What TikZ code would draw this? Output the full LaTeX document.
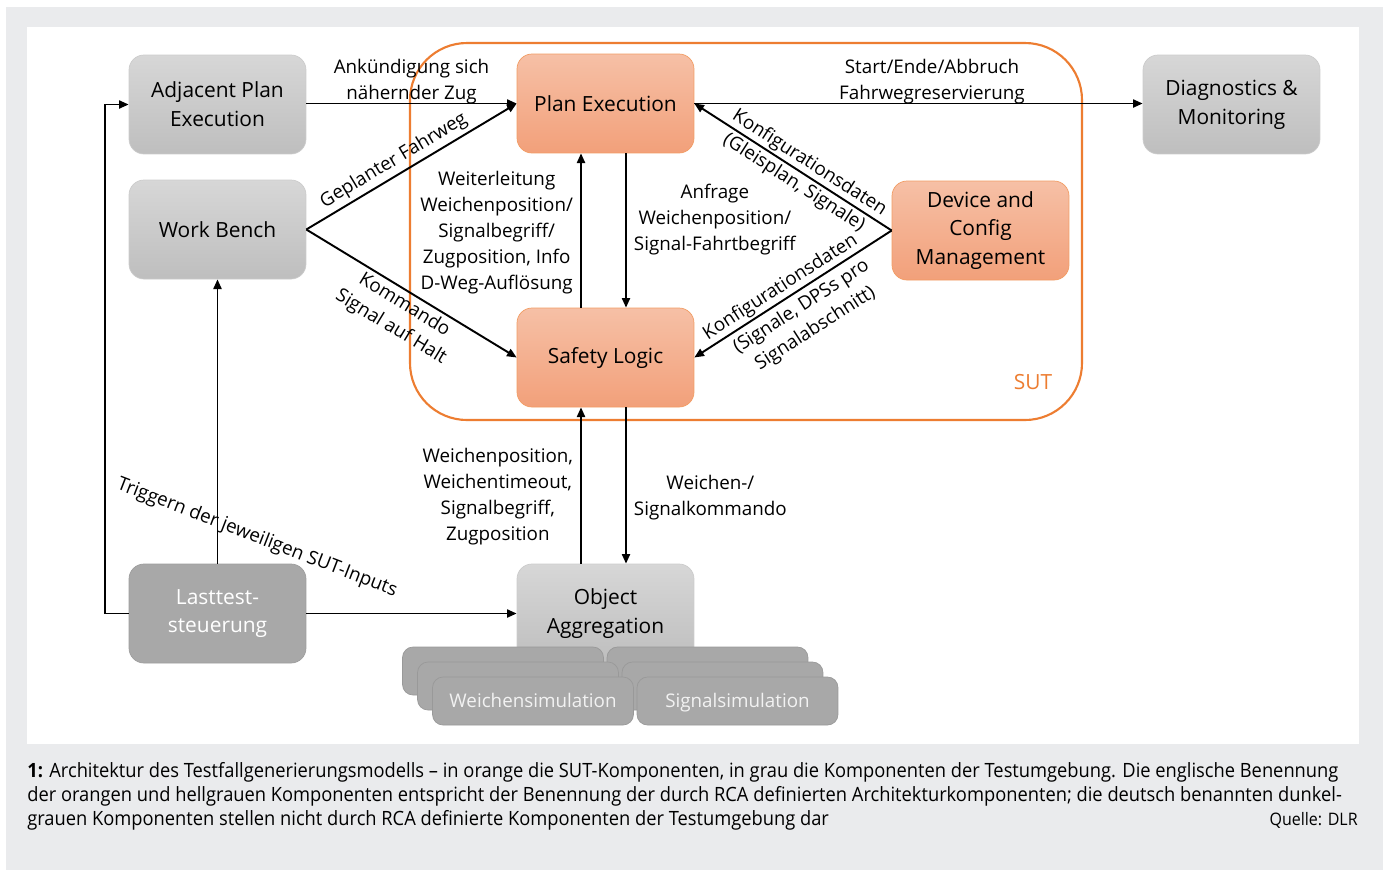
\documentclass[tikz,border=0pt]{standalone}
\usepackage{fontspec}
\setmainfont{Open Sans}
\newfontfamily\capfont[FakeStretch=0.93]{Open Sans}
\usetikzlibrary{arrows.meta}
\definecolor{bggray}{RGB}{234,235,237}
\definecolor{sutorange}{RGB}{237,125,49}
\definecolor{ortop}{RGB}{246,192,166}
\definecolor{orbot}{RGB}{242,160,122}
\definecolor{grtop}{RGB}{215,215,215}
\definecolor{grbot}{RGB}{190,190,190}
\definecolor{dkgray}{RGB}{168,168,168}
\tikzset{
  comp/.style={rounded corners=8.5pt, minimum width=3.54cm, minimum height=1.98cm, align=center, inner sep=2pt, font=\fontsize{11.9}{16.4}\selectfont},
  sutcomp/.style={comp, draw=sutorange!75, top color=ortop, bottom color=orbot},
  envcomp/.style={comp, draw=black!20, top color=grtop, bottom color=grbot},
  ltcomp/.style={comp, draw=black!38, fill=dkgray, text=white},
  simbox/.style={rounded corners=6pt, draw=black!40, fill=dkgray, minimum width=4.02cm, minimum height=0.96cm, inner sep=1pt, text height=0.95em, text depth=0.25em, text=white!95!black, font=\fontsize{10.7}{14}\selectfont},
  flow/.style={-{Triangle[length=5.5pt,width=4.6pt]}, line width=1.1pt},
  lbl/.style={align=center, inner sep=2pt, font=\fontsize{10.7}{14.7}\selectfont},
}
\begin{document}
\begin{tikzpicture}[x=0.02cm, y=-0.02cm]
\useasboundingbox (0,0) rectangle (1389,870);
\fill[bggray] (6,7) rectangle (1383,870);
\fill[white] (27,27) rectangle (1359,744);
% system under test
\draw[sutorange, line width=1.2pt, rounded corners=1.14cm] (410,43) rectangle (1082,420);
\node[text=sutorange, font=\fontsize{11.9}{14}\selectfont] (sut) at (1033,382) {SUT};
% components
\node[envcomp] (adj) at (217.5,104.5) {Adjacent Plan\\Execution};
\node[envcomp] (wb) at (217.5,229.5) {Work Bench};
\node[sutcomp] (plan) at (605.5,103.5) {Plan Execution};
\node[sutcomp] (safe) at (605.5,357.5) {Safety Logic};
\node[sutcomp] (dev) at (980.5,230.5) {Device and\\Config\\Management};
\node[envcomp] (diag) at (1231.5,104.5) {Diagnostics \&\\Monitoring};
\node[ltcomp] (last) at (217.5,613.5) {Lasttest-\\steuerung};
\node[envcomp] (obj) at (605.5,613.5) {Object\\Aggregation};
% simulation stacks
\foreach \d/\l/\r [count=\i] in {0//, 15//, 30/Weichensimulation/Signalsimulation} {
  \node[simbox] (wsim\i) at (503+\d,671+\d) {\l};
  \node[simbox] (ssim\i) at (707.5+\d,671+\d) {\r};
}
% connectors
\draw[flow] (adj.east |- plan) -- node[lbl, above, yshift=-2.8pt] (ankl) {Ankündigung sich\\nähernder Zug} (plan);
\draw[flow] (plan.east) -- node[lbl, above, pos=0.53, yshift=-2.8pt] (startl) {Start/Ende/Abbruch\\Fahrwegreservierung} (diag.west |- plan);
\draw[flow] (wb.east) -- node[lbl, sloped, above, pos=0.45] (fahrl) {Geplanter Fahrweg} (plan.west);
\draw[flow] (wb.east) -- node[lbl, sloped, below, pos=0.5, inner sep=2pt] (komml) {Kommando\\Signal auf Halt} (safe.west);
\draw[flow] (dev.west) -- node[lbl, sloped, above, pos=0.45, inner sep=1pt] (konf1a) {Konfigurationsdaten}
  node[lbl, sloped, below, pos=0.46, inner sep=1.5pt] (konf1b) {(Gleisplan, Signale)} (plan.east);
\draw[flow] (dev.west) -- node[lbl, sloped, above, pos=0.53, inner sep=1pt] (konf2a) {Konfigurationsdaten}
  node[lbl, sloped, below, pos=0.5, inner sep=3pt] (konf2b) {(Signale, DPSs pro\\Signalabschnitt)} (safe.east);
\draw[flow] ([xshift=-0.49cm]safe.north) -- node[lbl, left, inner sep=4pt, yshift=-1.2pt] (weitl) {Weiterleitung\\Weichenposition/\\Signalbegriff/\\Zugposition, Info\\D-Weg-Auflösung} ([xshift=-0.49cm]plan.south);
\draw[flow] ([xshift=0.41cm]plan.south) -- node[lbl, right, pos=0.43, inner sep=4pt] (anfl) {Anfrage\\Weichenposition/\\Signal-Fahrtbegriff} ([xshift=0.41cm]safe.north);
\draw[flow] ([xshift=-0.49cm]obj.north) -- node[lbl, left, pos=0.44, inner sep=4pt, yshift=-1pt] (posl) {Weichenposition,\\Weichentimeout,\\Signalbegriff,\\Zugposition} ([xshift=-0.49cm]safe.south);
\draw[flow] ([xshift=0.41cm]safe.south) -- node[lbl, right, pos=0.56, inner sep=4pt, yshift=-1.5pt] (kmdl) {Weichen-/\\Signalkommando} ([xshift=0.41cm]obj.north);
\draw[flow] (last.west) -- ++(-24,0) |- (adj.west);
\draw[flow] (last) -- (wb);
\draw[flow] (last) -- (obj);
\node[lbl, rotate=-21.2] (trigl) at (257,538) {Triggern der jeweiligen SUT-Inputs};
% caption
\begin{scope}[every node/.style={anchor=base west, inner sep=0pt, font=\capfont\fontsize{11.2}{12}\selectfont}]
\node (cap1) at (27,777) {\textbf{1:} Architektur des Testfallgenerierungsmodells – in orange die SUT-Komponenten, in grau die Komponenten der Testumgebung. Die englische Benennung};
\node (cap2) at (27,801) {der orangen und hellgrauen Komponenten entspricht der Benennung der durch RCA definierten Architekturkomponenten; die deutsch benannten dunkel-};
\node (cap3) at (27,825) {grauen Komponenten stellen nicht durch RCA definierte Komponenten der Testumgebung dar};
\node[anchor=base east, font=\capfont\fontsize{9.8}{12}\selectfont] (quelle) at (1358,825) {Quelle: DLR};
\end{scope}
\end{tikzpicture}
\end{document}
